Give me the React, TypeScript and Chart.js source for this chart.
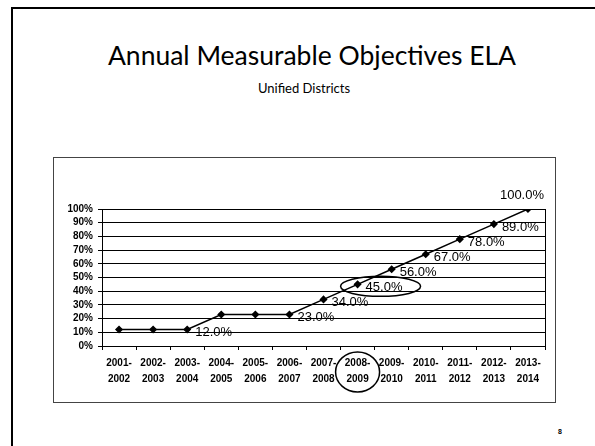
import React, { useEffect, useRef } from "react";
import { Chart, registerables } from "chart.js";

Chart.register(...registerables);

const categories: string[][] = [
  ["2001-", "2002"], ["2002-", "2003"], ["2003-", "2004"], ["2004-", "2005"],
  ["2005-", "2006"], ["2006-", "2007"], ["2007-", "2008"], ["2008-", "2009"],
  ["2009-", "2010"], ["2010-", "2011"], ["2011-", "2012"], ["2012-", "2013"],
  ["2013-", "2014"],
];
const values: number[] = [12, 12, 12, 23, 23, 23, 34, 45, 56, 67, 78, 89, 100];
const pointLabels: string[] = ["", "", "12.0%", "", "", "23.0%", "34.0%", "45.0%", "56.0%", "67.0%", "78.0%", "89.0%", "100.0%"];
const yTicks: number[] = [0, 10, 20, 30, 40, 50, 60, 70, 80, 90, 100];
const highlightIndex = 7;

const TITLE = "Annual Measurable Objectives ELA";
const SUBTITLE = "Unified Districts";
const PAGE = "8";

const annotPlugin = {
  id: "annot",
  beforeDatasetsDraw(chart: any) {
    const { ctx, chartArea } = chart;
    ctx.save();
    ctx.strokeStyle = "#000";
    ctx.lineWidth = 1;
    ctx.beginPath();
    ctx.moveTo(chartArea.right + 0.5, chartArea.top);
    ctx.lineTo(chartArea.right + 0.5, chartArea.bottom);
    ctx.stroke();
    ctx.restore();
  },
  afterDatasetsDraw(chart: any) {
    const { ctx, chartArea } = chart;
    const meta = chart.getDatasetMeta(0);
    ctx.save();
    ctx.font = '13px "Liberation Sans", Arial, sans-serif';
    ctx.fillStyle = "#000";
    ctx.textBaseline = "middle";
    pointLabels.forEach((lab, i) => {
      if (!lab) return;
      const p = meta.data[i];
      if (i === values.length - 1) {
        ctx.textAlign = "center";
        ctx.fillText(lab, p.x - 6, p.y - 14);
      } else {
        ctx.textAlign = "left";
        ctx.fillText(lab, p.x + 8, p.y + 3);
      }
    });
    const h = meta.data[highlightIndex];
    ctx.strokeStyle = "#000";
    ctx.lineWidth = 1.5;
    ctx.beginPath();
    ctx.ellipse(h.x + 23, h.y + 2, 40, 10, 0, 0, Math.PI * 2);
    ctx.stroke();
    const xs = chart.scales.x;
    const cx = xs.getPixelForValue(highlightIndex);
    ctx.beginPath();
    ctx.ellipse(cx, chartArea.bottom + 26, 22, 20, 0, 0, Math.PI * 2);
    ctx.stroke();
    ctx.restore();
  },
};

export default function App() {
  const ref = useRef<HTMLCanvasElement | null>(null);
  useEffect(() => {
    if (!ref.current) return;
    const tickFont = { family: '"Liberation Sans", Arial, sans-serif', size: 10, weight: "bold" as const };
    const chart = new Chart(ref.current, {
      type: "line",
      data: {
        labels: categories,
        datasets: [
          {
            data: values,
            borderColor: "#000",
            borderWidth: 1.5,
            pointStyle: "rectRot",
            pointRadius: 3,
            pointBackgroundColor: "#000",
            pointBorderColor: "#000",
            tension: 0,
          },
        ],
      },
      options: {
        animation: false,
        responsive: false,
        layout: { padding: { top: 51, right: 10, left: 0, bottom: 0 } },
        plugins: { legend: { display: false }, tooltip: { enabled: false } },
        scales: {
          x: {
            offset: true,
            grid: { offset: true, drawOnChartArea: false, drawTicks: true, tickLength: 4, color: "#000" },
            border: { color: "#000", width: 1 },
            ticks: { font: { ...tickFont, lineHeight: 1.6 }, color: "#000", padding: 5, maxRotation: 0, autoSkip: false },
            afterFit: (s: any) => { s.height = 56; },
          },
          y: {
            min: 0,
            max: 100,
            afterBuildTicks: (s: any) => { s.ticks = yTicks.map((v) => ({ value: v })); },
            ticks: { font: { ...tickFont, lineHeight: 1 }, color: "#000", padding: 5, autoSkip: false, callback: (v: any) => v + "%" },
            grid: { color: "#000", lineWidth: 1, tickLength: 4 },
            border: { color: "#000", width: 1 },
            afterFit: (s: any) => { s.width = 48; },
          },
        },
      },
      plugins: [annotPlugin],
    });
    return () => chart.destroy();
  }, []);

  return (
    <div style={{ position: "fixed", left: 0, top: 0, width: 595, height: 446, background: "#fff", overflow: "hidden" }}>
      <div style={{ position: "absolute", left: 11, top: 7, width: 600, height: 460, borderLeft: "2px solid #000", borderTop: "2px solid #000" }} />
      <div style={{ position: "absolute", left: 12, width: 600, top: 40, textAlign: "center", fontFamily: "Lato, 'Open Sans', sans-serif", fontSize: 26.5, lineHeight: "30px", color: "#000" }}>{TITLE}</div>
      <div style={{ position: "absolute", left: 12, width: 584, top: 80, textAlign: "center", fontFamily: "Lato, 'Open Sans', sans-serif", fontSize: 13, lineHeight: "16px", color: "#000" }}>{SUBTITLE}</div>
      <div style={{ position: "absolute", left: 53, top: 157, width: 501, height: 244, border: "1px solid #444" }}>
        <canvas ref={ref} width={501} height={244} style={{ display: "block", width: 501, height: 244 }} />
      </div>
      <div style={{ position: "absolute", left: 558, top: 428, fontFamily: "'Liberation Sans', Arial, sans-serif", fontSize: 7, fontWeight: "bold", color: "#000" }}>{PAGE}</div>
    </div>
  );
}
